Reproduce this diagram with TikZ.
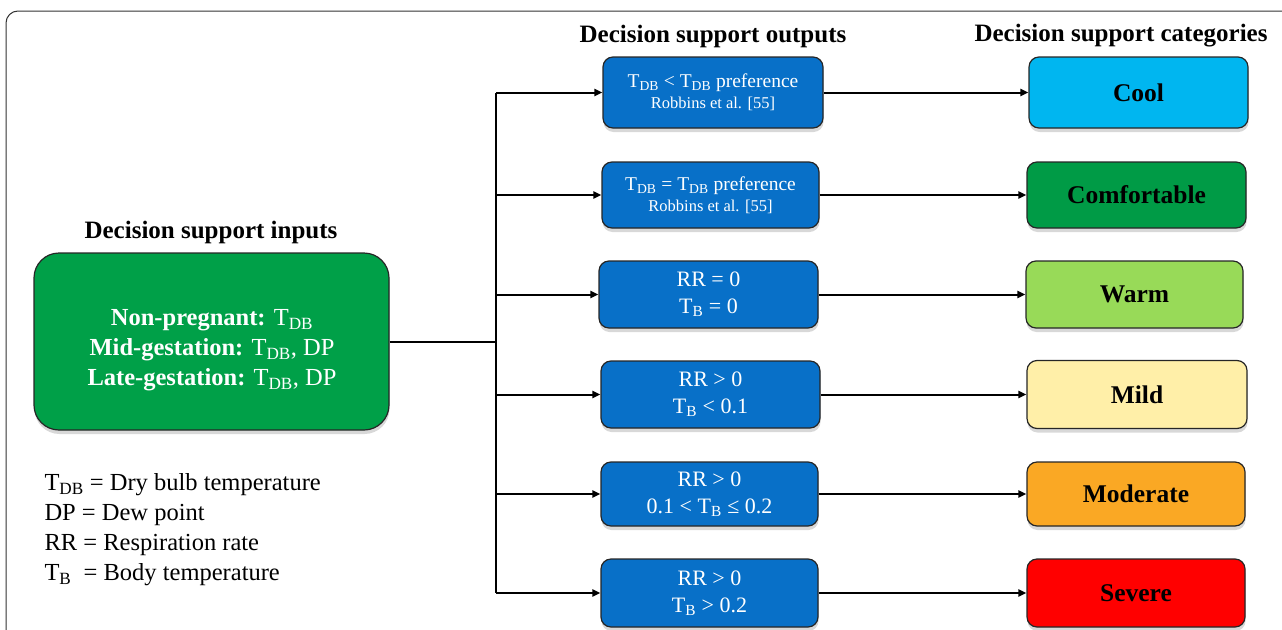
\documentclass[tikz,border=0pt]{standalone}
\usepackage{fontspec}
\setmainfont{Liberation Serif}
\usetikzlibrary{arrows.meta,shadows}
\definecolor{outblue}{RGB}{8,112,200}
\definecolor{ingreen}{RGB}{0,160,72}
\definecolor{coolc}{RGB}{0,182,240}
\definecolor{comfc}{RGB}{0,155,70}
\definecolor{warmc}{RGB}{152,218,88}
\definecolor{mildc}{RGB}{255,239,168}
\definecolor{modc}{RGB}{250,168,36}
\definecolor{sevc}{RGB}{255,0,0}
\newcommand{\sbs}[1]{\textsubscript{#1}}
\tikzset{
  boxshadow/.style={drop shadow={shadow xshift=0.5pt, shadow yshift=-4pt, opacity=0.22, fill=black!70}},
  basebox/.style={draw=black!85, line width=1.2pt, rounded corners=10pt, inner sep=0pt, align=center, boxshadow},
  outbox/.style={basebox, fill=outblue, text=white},
  catbox/.style={basebox, text=black, font=\bfseries\fontsize{25.5}{28}\selectfont},
  hdr/.style={font=\bfseries\fontsize{25}{30}\selectfont},
  conn/.style={line width=2pt, black},
  arr/.style={conn, -{Triangle[length=8pt,width=7pt]}},
  rrtext/.style={font=\fontsize{22}{27}\selectfont},
  tdbtext/.style={font=\fontsize{19.5}{22}\selectfont}
}
\begin{document}
\begin{tikzpicture}[x=1pt,y=-1pt]
\useasboundingbox (0,0) rectangle (1282,629);
% outer frame
\draw[black!80, line width=1pt, rounded corners=12pt] (6,660) -- (6,11) -- (1300,11);

% headers
\node[hdr] (hin) at (211,232) {Decision support inputs};
\node[hdr] (hout) at (713,36) {Decision support outputs};
\node[hdr] (hcat) at (1121,36) {Decision support categories};

% input box
\node[basebox, fill=ingreen, rounded corners=25pt, minimum width=355pt, minimum height=177pt] (in) at (211.5,341.5) {};
\node[text=white, align=center, font=\fontsize{24.5}{30}\selectfont] (intext) at (212,350)
  {\textbf{Non-pregnant:} T\sbs{DB}\\ \textbf{Mid-gestation:} T\sbs{DB}, DP\\ \textbf{Late-gestation:} T\sbs{DB}, DP};

% legend
\node[anchor=west, align=left, font=\fontsize{24.5}{30}\selectfont] (legend) at (41,530)
  {T\sbs{DB} = Dry bulb temperature\\ DP = Dew point\\ RR = Respiration rate\\ T\sbs{B}\ \ = Body temperature};

% output boxes
\node[outbox, tdbtext, minimum width=220pt, minimum height=71pt] (o1) at (713,92.5)
  {T\sbs{DB} < T\sbs{DB} preference\\[-1pt]{\fontsize{16.5}{18}\selectfont Robbins et al. [55]}};
\node[outbox, tdbtext, minimum width=217pt, minimum height=66pt] (o2) at (710.5,195)
  {T\sbs{DB} = T\sbs{DB} preference\\[-1pt]{\fontsize{16.5}{18}\selectfont Robbins et al. [55]}};
\node[outbox, rrtext, minimum width=219pt, minimum height=67pt] (o3) at (708.5,294.5)
  {RR = 0\\ T\sbs{B} = 0};
\node[outbox, rrtext, minimum width=219pt, minimum height=67pt] (o4) at (710.5,394.5)
  {RR > 0\\ T\sbs{B} < 0.1};
\node[outbox, rrtext, minimum width=217pt, minimum height=64pt] (o5) at (709.5,494)
  {RR > 0\\ 0.1 < T\sbs{B} ≤ 0.2};
\node[outbox, rrtext, minimum width=217pt, minimum height=68pt] (o6) at (709.5,593)
  {RR > 0\\ T\sbs{B} > 0.2};

% category boxes
\node[catbox, fill=coolc, minimum width=219pt, minimum height=71pt] (c1) at (1138.5,92.5) {Cool};
\node[catbox, fill=comfc, minimum width=219pt, minimum height=66pt] (c2) at (1136.5,195) {Comfortable};
\node[catbox, fill=warmc, minimum width=217pt, minimum height=67pt] (c3) at (1134.5,294.5) {Warm};
\node[catbox, fill=mildc, minimum width=220pt, minimum height=68pt] (c4) at (1137,394.5) {Mild};
\node[catbox, fill=modc, minimum width=218pt, minimum height=64pt] (c5) at (1136,494) {Moderate};
\node[catbox, fill=sevc, minimum width=218pt, minimum height=68pt] (c6) at (1136,593) {Severe};

% connectors
\coordinate (j) at (496,341.5);
\draw[conn] (in.east) -- (j);
\draw[conn] (j |- o1.west) -- (j |- o6.west);
\foreach \i in {1,...,6} {
  \draw[arr] (j |- o\i.west) -- (o\i.west);
  \draw[arr] (o\i.east) -- (c\i.west);
}
\end{tikzpicture}
\end{document}
